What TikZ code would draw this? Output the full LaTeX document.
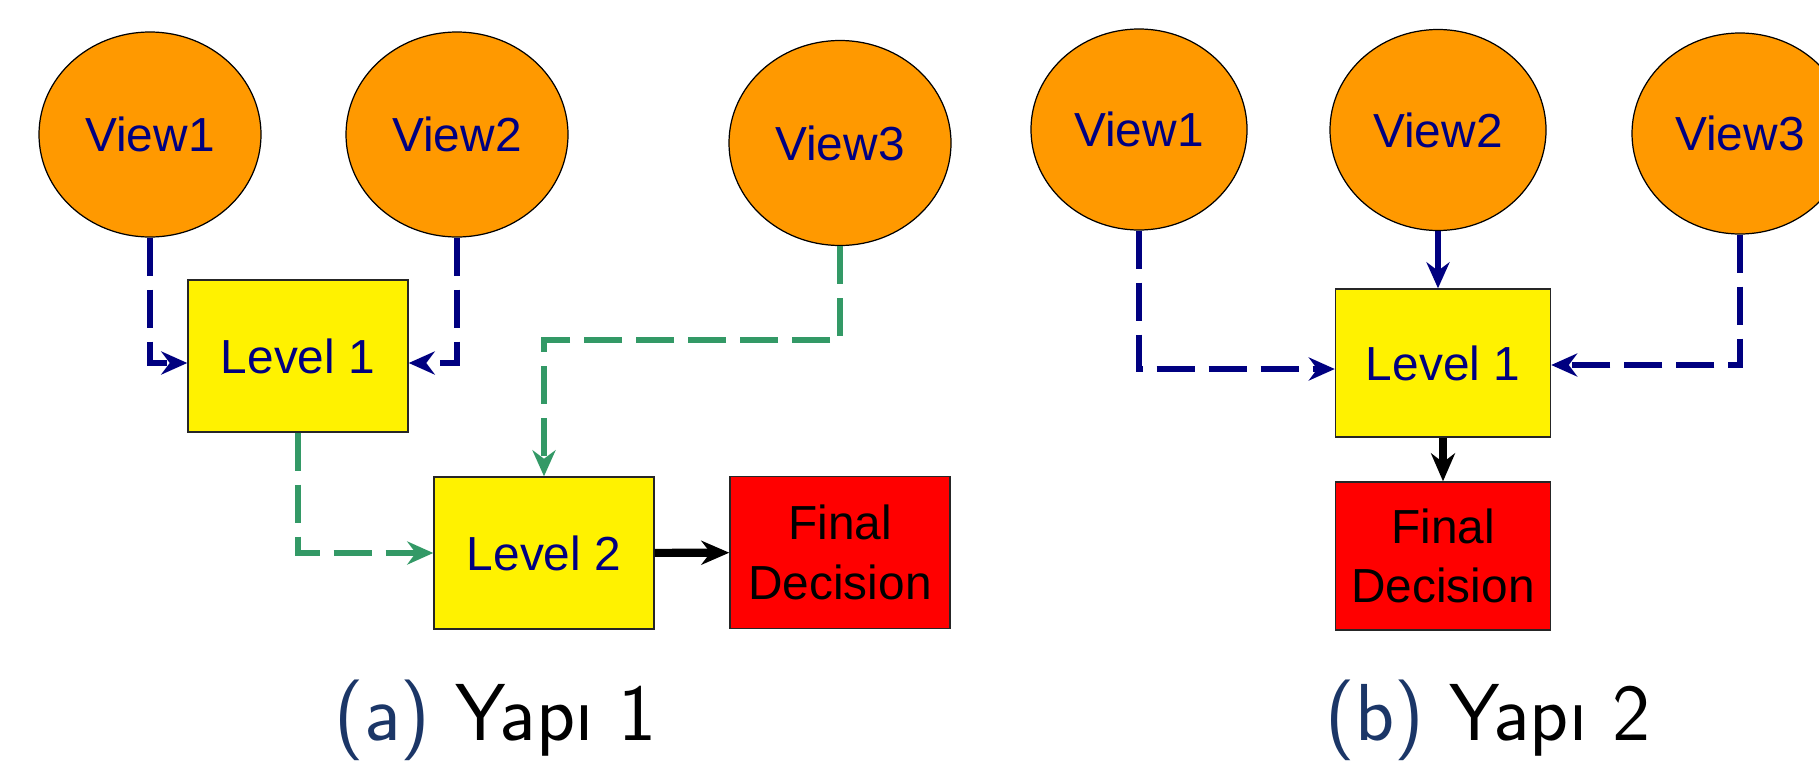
\documentclass[tikz,border=0pt]{standalone}
\usepackage{fontspec}
\newfontfamily\boxfont{Liberation Sans}
\usepackage{tikz}
\usetikzlibrary{arrows.meta,shapes.geometric}

\definecolor{vieworange}{HTML}{FF9900}
\definecolor{navytext}{HTML}{000080}
\definecolor{flowgreen}{HTML}{339966}
\definecolor{capblue}{HTML}{1B3667}

\begin{document}
\begin{tikzpicture}[>={Stealth[length=2.6mm,width=2.3mm]},
    view/.style={ellipse, draw=black, line width=0.35pt, fill=vieworange, text=navytext,
        minimum width=2.22cm, minimum height=2.05cm, font=\boxfont\fontsize{13.6}{17}\selectfont},
    level/.style={rectangle, draw=black!85, line width=0.4pt, fill=yellow, text=navytext,
        minimum width=2.2cm, minimum height=1.52cm, font=\boxfont\fontsize{13.6}{17}\selectfont},
    final/.style={level, fill=red, text=black, align=center},
    blueflow/.style={->, draw=navytext, line width=1.7pt, dash pattern=on 3.8mm off 1.4mm},
    greenflow/.style={->, draw=flowgreen, line width=1.7pt, dash pattern=on 3.8mm off 1.4mm},
    solidflow/.style={-{Stealth[length=2.8mm,width=2.4mm]}, line width=2.3pt},
    caption/.style={anchor=base, font=\sffamily\fontsize{23}{27}\selectfont}]
    \useasboundingbox (0,0) rectangle (18.19,-7.65);
    \clip (0,0) rectangle (18.19,-7.65);

    % (a) two levels
    \node[view] (v1a) at (1.50,-1.345) {View1};
    \node[view] (v2a) at (4.57,-1.345) {View2};
    \node[view] (v3a) at (8.40,-1.43) {View3};
    \node[level] (l1a) at (2.98,-3.56) {Level 1};
    \node[level] (l2a) at (5.44,-5.53) {Level 2};
    \node[final] (fda) at (8.40,-5.525) {Final\\Decision};

    \draw[blueflow] (v1a.south) |- ([yshift=-0.7mm]l1a.west);
    \draw[blueflow] (v2a.south) |- ([yshift=-0.7mm]l1a.east);
    \draw[greenflow] (l1a.south) |- (l2a.west);
    \draw[greenflow] (v3a.south) -- ++(0,-0.94) -| (l2a.north);
    \draw[solidflow] (l2a) -- (fda);

    \node[caption] (capa) at (4.955,-7.40) {{\color{capblue}(a)} Yapı 1};

    % (b) one level
    \node[view, minimum width=2.16cm, minimum height=2.01cm] (v1b) at (11.39,-1.295) {View1};
    \node[view, minimum width=2.16cm, minimum height=2.01cm] (v2b) at (14.38,-1.30) {View2};
    \node[view, minimum width=2.16cm, minimum height=2.01cm] (v3b) at (17.40,-1.335) {View3};
    \node[level, minimum width=2.15cm, minimum height=1.48cm] (l1b) at (14.43,-3.63) {Level 1};
    \node[final, minimum width=2.15cm, minimum height=1.48cm] (fdb) at (14.43,-5.56) {Final\\Decision};

    \draw[blueflow] (v1b.south) |- ([yshift=-0.6mm]l1b.west);
    \draw[->, draw=navytext, line width=1.7pt] (v2b.south) -- (v2b.south |- l1b.north);
    \draw[blueflow] (v3b.south) |- ([yshift=-0.2mm]l1b.east);
    \draw[solidflow] (l1b) -- (fdb);

    \node[caption] (capb) at (14.88,-7.40) {{\color{capblue}(b)} Yapı 2};
\end{tikzpicture}
\end{document}
